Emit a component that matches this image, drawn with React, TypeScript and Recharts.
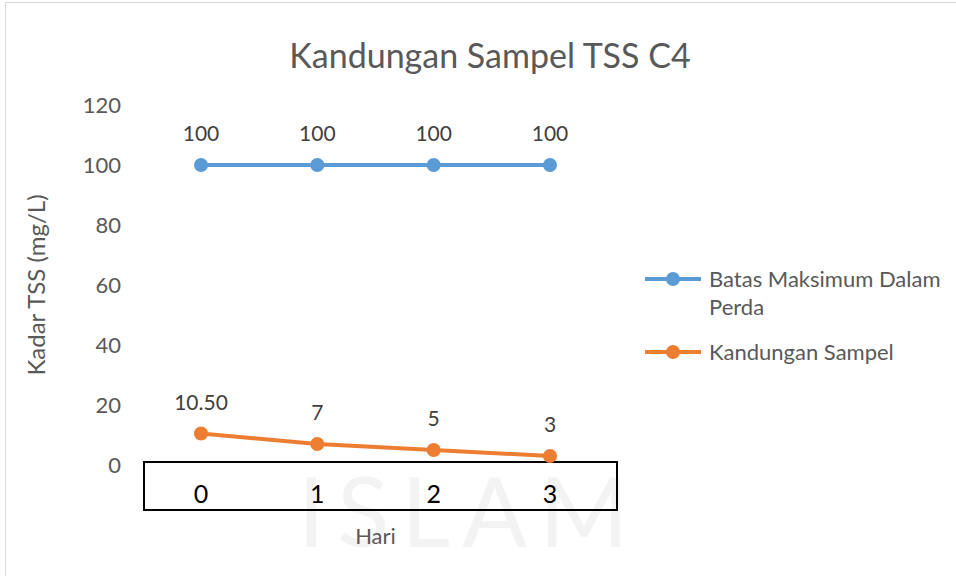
import { LineChart, Line, XAxis, YAxis, LabelList, Label } from 'recharts';

const days = ['0', '1', '2', '3'];
const batasMaksimum = [100, 100, 100, 100];
const kandunganSampel = [10.5, 7, 5, 3];
const yTicks = [0, 20, 40, 60, 80, 100, 120];

const seriesNames = ['Batas Maksimum Dalam Perda', 'Kandungan Sampel'];
const BLUE = '#5B9BD5';
const ORANGE = '#ED7D31';
const FONT = 'Lato, "Open Sans", sans-serif';

const data = days.map((hari, i) => ({
  hari,
  batas: batasMaksimum[i],
  sampel: kandunganSampel[i],
}));

const fmt = (v: any) => (Number.isInteger(v) ? String(v) : Number(v).toFixed(2));

function DayTick({ x, y, payload }: any) {
  return (
    <text x={x} y={y + 20} textAnchor="middle" dominantBaseline="central" fontSize={25} fill="#000" fontFamily={FONT}>
      {payload.value}
    </text>
  );
}

function LegendItem({ color, label, top }: { color: string; label: string; top: number }) {
  return (
    <div style={{ position: 'absolute', left: 645, top, display: 'flex', alignItems: 'flex-start' }}>
      <svg width={58} height={28} style={{ flexShrink: 0 }}>
        <line x1={0} y1={14} x2={56} y2={14} stroke={color} strokeWidth={4} />
        <circle cx={28} cy={14} r={7} fill={color} />
      </svg>
      <div style={{ width: 250, marginLeft: 6, fontSize: 22, lineHeight: '28px', color: '#595959', fontFamily: FONT }}>
        {label}
      </div>
    </div>
  );
}

export default function App() {
  return (
    <div style={{ position: 'absolute', left: 0, top: 0, width: 956, height: 576, background: '#fff', overflow: 'hidden' }}>
      <div style={{ position: 'absolute', left: 5, top: 2, width: 960, height: 580, border: '1px solid #d9d9d9' }} />
      {/* faint watermark from the source document */}
      <div
        style={{
          position: 'absolute', left: 298, top: 452, fontSize: 96, letterSpacing: 12,
          color: '#f3f3f3', fontFamily: FONT, fontWeight: 400,
        }}
      >
        ISLAM
      </div>
      <div
        style={{
          position: 'absolute', left: 0, top: 34, width: 980, textAlign: 'center',
          fontSize: 34, color: '#595959', fontFamily: FONT,
        }}
      >
        Kandungan Sampel TSS C4
      </div>
      <div style={{ position: 'absolute', left: 143, top: 461, width: 471, height: 46, border: '2px solid #000' }} />
      <div style={{ position: 'absolute', left: 0, top: 0 }}>
        <LineChart width={956} height={576} data={data} margin={{ top: 105, right: 348, bottom: 0, left: 0 }}>
          <XAxis
            dataKey="hari"
            height={111}
            axisLine={false}
            tickLine={false}
            tick={<DayTick />}
            interval={0}
            padding={{ left: 58, right: 58 }}
          >
            <Label value="Hari" position="insideBottom" offset={32} fontSize={22} fill="#595959" fontFamily={FONT} />
          </XAxis>
          <YAxis
            width={143}
            domain={[0, 120]}
            ticks={yTicks}
            axisLine={false}
            tickLine={false}
            tickMargin={16}
            tick={{ fontSize: 22, fill: '#595959', fontFamily: FONT }}
          >
            <Label
              value="Kadar TSS (mg/L)"
              angle={-90}
              position="insideLeft"
              offset={36}
              style={{ textAnchor: 'middle' }}
              fontSize={24}
              fill="#595959"
              fontFamily={FONT}
            />
          </YAxis>
          <Line
            dataKey="batas"
            name={seriesNames[0]}
            stroke={BLUE}
            strokeWidth={4}
            dot={{ r: 7, fill: BLUE, stroke: 'none' }}
            isAnimationActive={false}
          >
            <LabelList dataKey="batas" position="top" offset={24} formatter={fmt} fontSize={21} fill="#404040" fontFamily={FONT} />
          </Line>
          <Line
            dataKey="sampel"
            name={seriesNames[1]}
            stroke={ORANGE}
            strokeWidth={4}
            dot={{ r: 7, fill: ORANGE, stroke: 'none' }}
            isAnimationActive={false}
          >
            <LabelList dataKey="sampel" position="top" offset={24} formatter={fmt} fontSize={21} fill="#404040" fontFamily={FONT} />
          </Line>
        </LineChart>
      </div>
      <LegendItem color={BLUE} label={seriesNames[0]} top={265} />
      <LegendItem color={ORANGE} label={seriesNames[1]} top={338} />
    </div>
  );
}
